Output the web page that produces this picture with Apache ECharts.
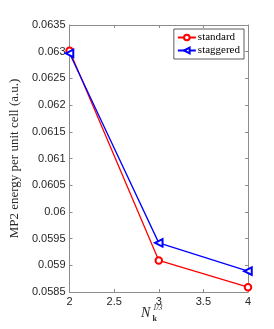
<!DOCTYPE html>
<html><head><meta charset="utf-8">
<script src="https://cdn.jsdelivr.net/npm/echarts@6/dist/echarts.min.js"></script>
<style>html,body{margin:0;padding:0;background:#fff}#c{width:274px;height:329px}</style>
</head><body><div id="c"></div>
<script>
const xValues = [2, 3, 4];
const standard = [0.06302, 0.05909, 0.05859];
const staggered = [0.06297, 0.05942, 0.05889];
const seriesNames = ['standard', 'staggered'];

const chart = echarts.init(document.getElementById('c'), null, {renderer: 'canvas'});
const axisColor = '#8c8c8c';
const labelColor = '#262626';
const fmt = v => parseFloat(Number(v).toFixed(5)).toString();
const common = {
  axisLine: {show: true, lineStyle: {color: axisColor, width: 1}},
  axisTick: {show: true, inside: true, length: 3, lineStyle: {color: axisColor}},
  splitLine: {show: false}
};
chart.setOption({
  animation: false,
  grid: {left: 58, right: 26, top: 25, bottom: 37},
  legend: {
    right: 30, top: 29,
    orient: 'vertical',
    backgroundColor: '#fff',
    borderColor: '#333', borderWidth: 0.8, borderRadius: 0,
    padding: [3, 4, 3, 3],
    itemGap: 2, itemWidth: 18, itemHeight: 7,
    textStyle: {fontFamily: 'Liberation Serif', fontSize: 11, color: '#000', padding: [0, 0, 0, -3]},
    data: seriesNames
  },
  graphic: [
    {type: 'text', x: 141, y: 306, style: {text: 'N', font: 'italic 14px "Liberation Serif"', fill: labelColor}},
    {type: 'text', x: 152.5, y: 315, style: {text: 'k', font: 'bold 8px "Liberation Serif"', fill: labelColor}},
    {type: 'text', x: 153, y: 304.5, style: {text: '1/3', font: 'italic 7.5px "Liberation Serif"', fill: labelColor}}
  ],
  xAxis: [{
    type: 'value', min: 2, max: 4, interval: 0.5, ...common,
    axisLabel: {color: labelColor, fontFamily: 'Liberation Sans', fontSize: 11, margin: 4, formatter: fmt}
  }, {
    type: 'value', position: 'top', min: 2, max: 4, interval: 0.5, ...common,
    axisLabel: {show: false}
  }],
  yAxis: [{
    type: 'value', min: 0.0585, max: 0.0635, interval: 0.0005, ...common,
    axisLabel: {color: labelColor, fontFamily: 'Liberation Sans', fontSize: 11, margin: 4, formatter: fmt},
    name: 'MP2 energy per unit cell (a.u.)', nameLocation: 'middle', nameGap: 47,
    nameTextStyle: {fontFamily: 'Liberation Serif', fontSize: 13, color: labelColor}
  }, {
    type: 'value', position: 'right', min: 0.0585, max: 0.0635, interval: 0.0005, ...common,
    axisLabel: {show: false}
  }],
  series: [{
    name: seriesNames[0], type: 'line',
    data: xValues.map((x, i) => [x, standard[i]]),
    color: '#ff0000',
    lineStyle: {width: 1.3},
    symbol: 'emptyCircle', symbolSize: 6.5,
    itemStyle: {borderWidth: 1.2, color: '#ff0000'}
  }, {
    name: seriesNames[1], type: 'line',
    data: xValues.map((x, i) => [x, staggered[i]]),
    color: '#0000ff',
    lineStyle: {width: 1.3},
    symbol: 'emptyTriangle', symbolSize: 7.5, symbolRotate: 90,
    itemStyle: {borderWidth: 1.2, color: '#0000ff'}
  }]
});
</script></body></html>
